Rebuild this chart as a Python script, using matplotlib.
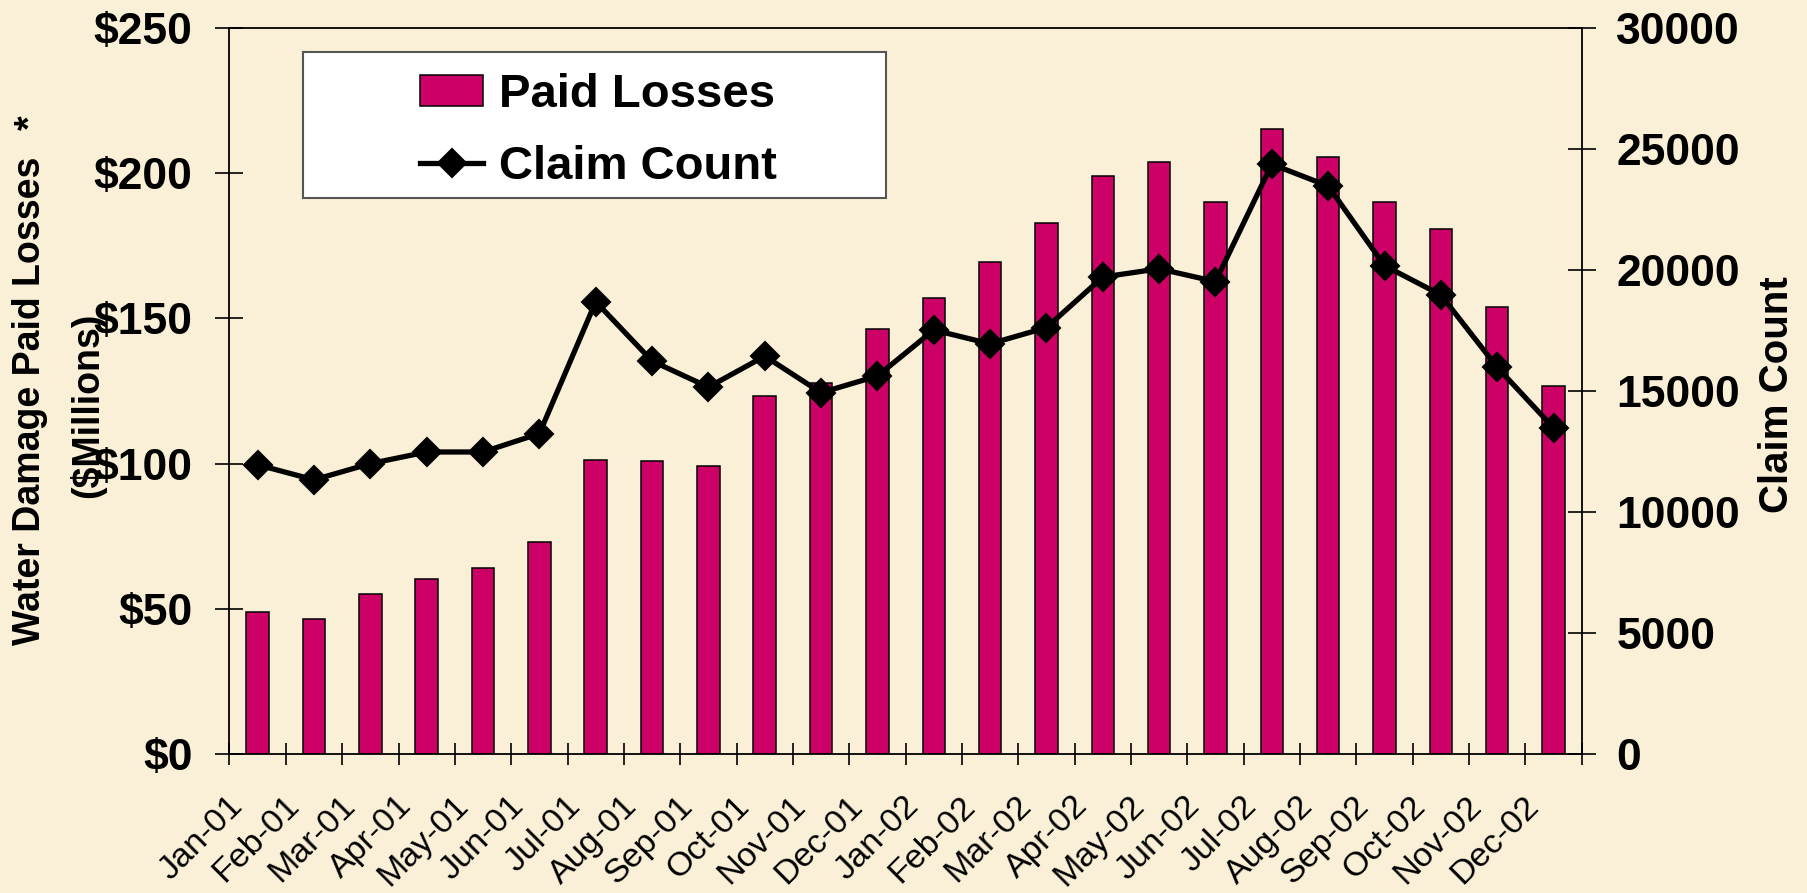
import matplotlib
matplotlib.use("Agg")
import matplotlib.pyplot as plt
from matplotlib.patches import Rectangle
from matplotlib.ticker import FuncFormatter
from matplotlib.transforms import ScaledTranslation
import numpy as np

# Monthly water damage experience, 2001-2002
months = ["Jan-01", "Feb-01", "Mar-01", "Apr-01", "May-01", "Jun-01",
          "Jul-01", "Aug-01", "Sep-01", "Oct-01", "Nov-01", "Dec-01",
          "Jan-02", "Feb-02", "Mar-02", "Apr-02", "May-02", "Jun-02",
          "Jul-02", "Aug-02", "Sep-02", "Oct-02", "Nov-02", "Dec-02"]
paid_losses = [48.8, 46.4, 55.2, 60.3, 63.9, 73.0, 101.4, 101.0, 99.3, 123.2, 127.9, 146.5,
               157.1, 169.4, 182.9, 199.2, 204.0, 190.2, 215.2, 205.7, 190.1, 180.8, 153.9, 126.7]
claim_count = [11950, 11330, 12000, 12480, 12480, 13240, 18690, 16240, 15160, 16440, 14930, 15620,
               17520, 16950, 17620, 19710, 20050, 19520, 24370, 23470, 20180, 18970, 15980, 13480]

left_ticks = [0, 50, 100, 150, 200, 250]
right_ticks = [0, 5000, 10000, 15000, 20000, 25000, 30000]

BG = "#FAF0D8"
BAR = "#CC0066"

plt.rcParams["font.family"] = ["Liberation Sans", "DejaVu Sans"]

W, H = 1808, 893
fig = plt.figure(figsize=(W / 100, H / 100), dpi=100, facecolor=BG)

x0, x1, ytop, ybot = 229.5, 1581.7, 28, 754
ax = fig.add_axes([x0 / W, 1 - ybot / H, (x1 - x0) / W, (ybot - ytop) / H])
ax.set_facecolor("none")

x = np.arange(len(months))
ax.bar(x, paid_losses, width=0.40, color=BAR, edgecolor="black", linewidth=1.1,
       label="Paid Losses", zorder=2)
ax.set_xlim(-0.5, len(months) - 0.5)
ax.set_ylim(left_ticks[0], left_ticks[-1])
ax.set_yticks(left_ticks)
ax.yaxis.set_major_formatter(FuncFormatter(lambda v, p: f"${v:.0f}"))

# Category boundaries carry the tick marks; labels sit at category centres
ax.set_xticks(np.arange(len(months) + 1) - 0.5)
ax.set_xticklabels([])
ax.set_xticks(x, minor=True)
ax.set_xticklabels(months, minor=True, rotation=45, ha="right", va="center",
                   rotation_mode="anchor", fontsize=24.5)
ax.tick_params(axis="x", which="major", direction="inout", length=16, width=1.2)
ax.tick_params(axis="x", which="minor", length=0, pad=34)
shift = ScaledTranslation(-0.20, 0, fig.dpi_scale_trans)
for lbl in ax.get_xticklabels(minor=True):
    lbl.set_transform(lbl.get_transform() + shift)

ax.tick_params(axis="y", direction="inout", length=20, width=1.2, pad=16.5,
               labelsize=32)
for lbl in ax.get_yticklabels():
    lbl.set_fontweight("bold")

for side in ("left", "bottom", "top"):
    ax.spines[side].set_linewidth(1.3)
ax.spines["right"].set_visible(False)

ax2 = ax.twinx()
ax2.plot(x, claim_count, color="black", linewidth=3.8, marker="D", markersize=14.5,
         markeredgewidth=1.5, label="Claim Count", zorder=3)
ax2.set_ylim(right_ticks[0], right_ticks[-1])
ax2.set_yticks(right_ticks)
ax2.tick_params(axis="y", direction="inout", length=20, width=1.2, pad=15,
                labelsize=32)
for lbl in ax2.get_yticklabels():
    lbl.set_fontweight("bold")
for side in ("left", "bottom", "top"):
    ax2.spines[side].set_visible(False)
ax2.spines["right"].set_linewidth(1.3)

# Axis titles
fig.text(30 / W, 1 - 401 / H, "Water Damage Paid Losses", rotation=90,
         ha="center", va="center", fontsize=27, fontweight="bold")
fig.text(31 / W, 1 - 123 / H, "*", rotation=90,
         ha="center", va="center", fontsize=27, fontweight="bold")
fig.text(88 / W, 1 - 405 / H, "($Millions)", rotation=90,
         ha="center", va="center", fontsize=27, fontweight="bold")
fig.text(1777 / W, 1 - 395 / H, "Claim Count", rotation=90,
         ha="center", va="center", fontsize=29, fontweight="bold")

# Legend: white framed box with the entries centred inside it
lx0, lx1, ly0, ly1 = 303, 886, 52, 198
ax2.add_patch(Rectangle((lx0 / W, 1 - ly1 / H), (lx1 - lx0) / W, (ly1 - ly0) / H,
                        transform=fig.transFigure, facecolor="white",
                        edgecolor="#555555", linewidth=1.5, zorder=5, clip_on=False))
h1, l1 = ax.get_legend_handles_labels()
h2, l2 = ax2.get_legend_handles_labels()
leg = ax2.legend(h1 + h2, l1 + l2, loc="center",
                 bbox_to_anchor=((lx0 + lx1) / 2 / W + 4 / W, 1 - ((ly0 + ly1) / 2 + 6) / H),
                 bbox_transform=fig.transFigure, frameon=False,
                 prop={"weight": "bold", "size": 34},
                 handlelength=1.32, handleheight=0.64, handletextpad=0.34,
                 labelspacing=0.6, borderpad=0.0)
leg.set_zorder(6)

fig.savefig("out.png", dpi=100, facecolor=BG)
